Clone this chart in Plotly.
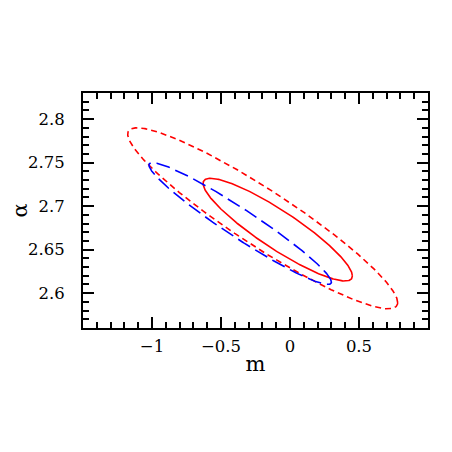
import numpy as np
import plotly.graph_objects as go

# confidence ellipses in the (m, alpha) plane: centre, half-extent in m and alpha, correlation
labels = ['outer (red dashed)', 'inner (red solid)', 'blue dashed']
centre_m = [-0.198, -0.089, -0.361]
centre_alpha = [2.686, 2.673, 2.680]
half_m = [0.978, 0.541, 0.661]
half_alpha = [0.104, 0.059, 0.070]
rho = [-0.93, -0.90, -0.96]
colors = ['#ff0000', '#ff0000', '#0000ff']
dashes = ['6px,4px', 'solid', '14px,6px']

x_ticks = [-1, -0.5, 0, 0.5]
y_ticks = [2.6, 2.65, 2.7, 2.75, 2.8]


def ellipse(cm, ca, sm, sa, r, n=400):
    """Points on a correlated error ellipse."""
    t = np.linspace(0, 2 * np.pi, n)
    m = cm + sm * np.cos(t)
    a = ca + sa * (r * np.cos(t) + np.sqrt(1 - r ** 2) * np.sin(t))
    return m, a


fig = go.Figure()
for i in range(len(labels)):
    m, a = ellipse(centre_m[i], centre_alpha[i], half_m[i], half_alpha[i], rho[i])
    fig.add_trace(go.Scatter(
        x=m, y=a, mode='lines', name=labels[i],
        line=dict(color=colors[i], width=1.6, dash=dashes[i]),
        showlegend=False
    ))

font = 'DejaVu Serif, Liberation Serif, serif'
axis_style = dict(
    showline=True, linecolor='black', linewidth=2, mirror='allticks',
    ticks='inside', ticklen=11, tickwidth=1.5, tickcolor='black',
    showgrid=False, zeroline=False, automargin=False,
    tickfont=dict(family=font, size=16.5, color='black'),
)

# page body has an 8px margin, so the figure is 444 wide/high and margins are shifted
fig.update_layout(
    width=444, height=444,
    margin=dict(l=75, r=24, t=85, b=124),
    plot_bgcolor='white', paper_bgcolor='white',
    xaxis=dict(
        range=[-1.5, 1.0], tickvals=x_ticks, ticklabelstandoff=2,
        minor=dict(ticks='inside', dtick=0.1, tick0=0, ticklen=6, tickwidth=1.5, tickcolor='black'),
        title=dict(text='m', font=dict(family=font, size=21, color='black'), standoff=2),
        **axis_style
    ),
    yaxis=dict(
        range=[2.56, 2.83], tickvals=y_ticks, ticklabelstandoff=13,
        minor=dict(ticks='inside', dtick=0.01, tick0=2.6, ticklen=6, tickwidth=1.5, tickcolor='black'),
        title=dict(text='α', font=dict(family=font, size=21, color='black'), standoff=19),
        **axis_style
    ),
)

fig.write_html("out.html")
